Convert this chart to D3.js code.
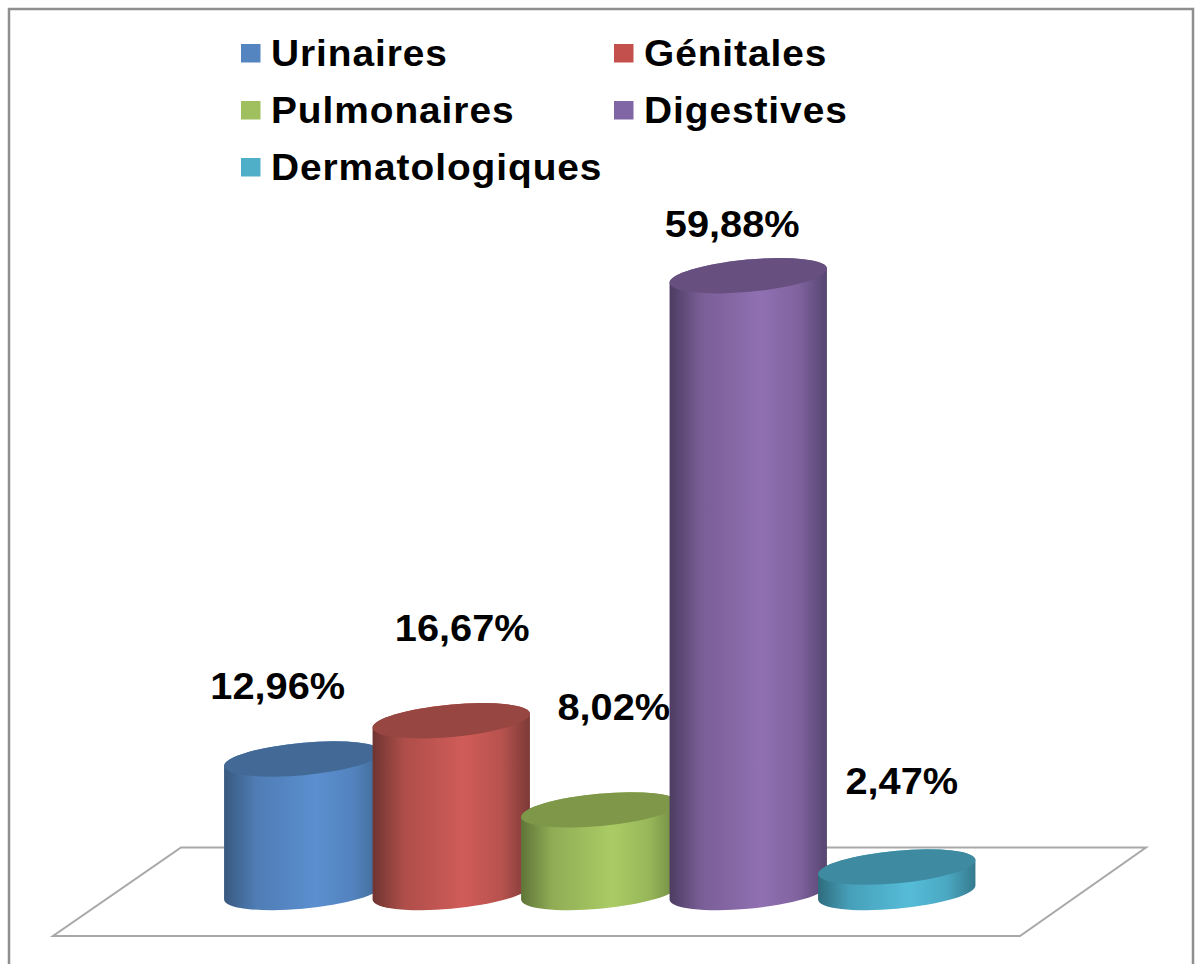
<!DOCTYPE html>
<html lang="fr">
<head>
<meta charset="utf-8">
<title>Localisations</title>
<script src="https://cdn.jsdelivr.net/npm/d3@7/dist/d3.min.js"></script>
<style>
  html, body { margin: 0; padding: 0; background: #fff; }
  svg { display: block; }
  text { font-family: "Liberation Sans", Arial, sans-serif; font-weight: bold; fill: #000; }
</style>
</head>
<body>
<svg id="chart" width="1195" height="964"></svg>
<script>
// Share of each localisation, in percent
const categories = ["Urinaires", "Génitales", "Pulmonaires", "Digestives", "Dermatologiques"];
const values = [12.96, 16.67, 8.02, 59.88, 2.47];

// Cylinder colours: wall edge, wall highlight, wall edge, top cap
const wallEdgeLeft = ["#38597f", "#6f3431", "#5f7538", "#4d3c62", "#2e6c7e"];
const wallLight = ["#5b8fd0", "#d05c58", "#aacb64", "#9070b2", "#55bcd8"];
const wallEdgeRight = ["#3f6894", "#7c3a37", "#6c8640", "#574570", "#357a8e"];
const capColors = ["#436a96", "#974641", "#7e9749", "#67507f", "#3e8ba1"];
const swatchColors = ["#5585c1", "#c4504d", "#a0bf5e", "#8166a6", "#50afc8"];

// Label nudges relative to the centre of each cylinder's top
const labelDx = [-25, 11, 14, -16, 5];
const labelDy = [-60, -80, -90, -39, -73];

const legendColumn = [0, 1, 0, 1, 0];
const legendRow = [0, 0, 1, 1, 2];

const svg = d3.select("#chart");
const defs = svg.append("defs");

const x = d3.scaleBand().domain(categories).range([228.5, 971]);
const y = d3.scaleLinear().domain([0, 60]).range([892.5, 274.5]);

// Outer frame, open at the bottom
svg.append("path")
  .attr("d", "M9,964V9H1193V964")
  .attr("fill", "none")
  .attr("stroke", "#8f8f8f")
  .attr("stroke-width", 2.5);

// Floor of the 3D scene
svg.append("path")
  .attr("d", "M181,847.5H1146L1020,936H53Z")
  .attr("fill", "#fff")
  .attr("stroke", "#a8a8a8")
  .attr("stroke-width", 2);

// Tilted ellipse shared by every cap and base
const rx = 79, ry = 16.2, tilt = 5.3;
const rad = tilt * Math.PI / 180;
const halfW = Math.sqrt(rx * rx * Math.cos(rad) ** 2 + ry * ry * Math.sin(rad) ** 2);
const skew = (rx * rx - ry * ry) * Math.sin(rad) * Math.cos(rad) / halfW;

const cx = c => x(c) + x.bandwidth() / 2;

categories.forEach((c, i) => {
  const grad = defs.append("linearGradient")
    .attr("id", "wall" + i)
    .attr("x1", 0).attr("x2", 1).attr("y1", 0).attr("y2", 0);
  [[0, wallEdgeLeft[i]], [0.2, d3.interpolateRgb(wallEdgeLeft[i], wallLight[i])(0.65)],
   [0.58, wallLight[i]], [0.82, d3.interpolateRgb(wallLight[i], wallEdgeRight[i])(0.3)],
   [1, wallEdgeRight[i]]].forEach(([o, col]) => {
    grad.append("stop").attr("offset", o).attr("stop-color", col);
  });
});

const bars = svg.append("g").selectAll("g")
  .data(categories.map((c, i) => ({ c, i, v: values[i] })))
  .join("g");

bars.append("path")
  .attr("fill", d => `url(#wall${d.i})`)
  .attr("d", d => {
    const mx = cx(d.c), top = y(d.v), base = y(0);
    return `M${mx - halfW},${top + skew}L${mx - halfW},${base + skew}` +
      `A${rx},${ry} ${-tilt} 0 0 ${mx + halfW},${base - skew}` +
      `L${mx + halfW},${top - skew}` +
      `A${rx},${ry} ${-tilt} 0 0 ${mx - halfW},${top + skew}Z`;
  });

bars.append("ellipse")
  .attr("rx", rx)
  .attr("ry", ry)
  .attr("fill", d => capColors[d.i])
  .attr("transform", d => `translate(${cx(d.c)},${y(d.v)}) rotate(${-tilt})`);

// Value labels, horizontally widened like the legend text
const formatValue = v => v.toFixed(2).replace(".", ",") + "%";
bars.append("text")
  .attr("text-anchor", "middle")
  .attr("font-size", 37.5)
  .attr("transform", d => `translate(${cx(d.c) + labelDx[d.i]},${y(d.v) + labelDy[d.i]}) scale(1.06,1)`)
  .text(d => formatValue(d.v));

// Legend
const legendX = d3.scaleOrdinal().domain([0, 1]).range([241, 614]);
const legendY = d3.scaleOrdinal().domain([0, 1, 2]).range([44, 101, 158]);
const legend = svg.append("g").selectAll("g")
  .data(categories.map((c, i) => ({ c, i })))
  .join("g")
  .attr("transform", d => `translate(${legendX(legendColumn[d.i])},${legendY(legendRow[d.i])})`);

legend.append("rect")
  .attr("width", 19.5)
  .attr("height", 18.5)
  .attr("fill", d => swatchColors[d.i]);

legend.append("text")
  .attr("font-size", 37)
  .attr("letter-spacing", 0.9)
  .attr("transform", "translate(30,21.5) scale(1.05,1)")
  .text(d => d.c);
</script>
</body>
</html>
